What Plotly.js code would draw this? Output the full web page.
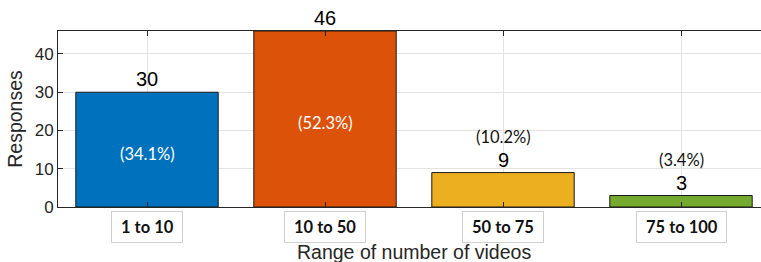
<!DOCTYPE html>
<html>
<head>
<meta charset="utf-8">
<script src="https://cdn.plot.ly/plotly-3.0.1.min.js"></script>
<style>
html,body{margin:0;padding:0;overflow:hidden;background:#fff;width:761px;height:262px;}
#chart{width:770px;height:262px;}
</style>
</head>
<body>
<div id="chart"></div>
<script>
const categories = ['1 to 10', '10 to 50', '50 to 75', '75 to 100'];
const responses = [30, 46, 9, 3];
const percents = ['(34.1%)', '(52.3%)', '(10.2%)', '(3.4%)'];
const barColors = ['#0072BD', '#DC5208', '#EBAF20', '#74AB2F'];
const yTicks = [0, 10, 20, 30, 40];

const xIdx = categories.map((c, i) => i + 1);
const txt = '#262626';

const annotations = [];
xIdx.forEach((x, i) => {
  const v = responses[i];
  annotations.push({
    x: x, y: v, xref: 'x', yref: 'y', text: String(v), showarrow: false,
    yanchor: 'bottom', yshift: 0,
    font: {family: 'Liberation Sans, Arial, sans-serif', size: 20, color: '#000'}
  });
  const inside = v > 20;
  annotations.push({
    x: x, y: inside ? v / 2 : v, xref: 'x', yref: 'y', text: percents[i], showarrow: false,
    yanchor: inside ? 'middle' : 'bottom', yshift: inside ? -4 : 24,
    font: {family: 'Lato, Carlito, sans-serif', size: 16.5, color: inside ? '#ffffff' : '#111'}
  });
  annotations.push({
    x: x, y: 0, xref: 'x', yref: 'y', text: '<b>&nbsp;' + categories[i] + '&nbsp;</b>', showarrow: false,
    yanchor: 'top', yshift: -4, bordercolor: '#d0d0d0', borderwidth: 1, borderpad: 5,
    bgcolor: '#ffffff',
    font: {family: 'Lato, Carlito, sans-serif', size: 16.5, color: '#111'}
  });
});
annotations.push({
  x: 0.5, y: 0, xref: 'paper', yref: 'paper', text: 'Range of number of videos', showarrow: false,
  xanchor: 'center', yanchor: 'top', yshift: -32,
  font: {family: 'Liberation Sans, Arial, sans-serif', size: 19.5, color: txt}
});

const trace = {
  type: 'bar', x: xIdx, y: responses,
  marker: {color: barColors, line: {color: '#1a1a1a', width: 1}},
  width: 0.8, hoverinfo: 'none'
};

const layout = {
  width: 770, height: 262,
  margin: {l: 58, r: 0, t: 31, b: 55},
  paper_bgcolor: '#fff', plot_bgcolor: '#fff',
  showlegend: false,
  font: {family: 'Liberation Sans, Arial, sans-serif', color: txt},
  xaxis: {
    range: [0.5, 4.5], tickvals: xIdx, ticktext: categories.map(() => ''),
    showgrid: true, gridcolor: '#e3e3e3', gridwidth: 1,
    ticks: 'inside', ticklen: 5, tickcolor: '#262626', mirror: 'ticks',
    showline: true, linecolor: '#262626', linewidth: 1, zeroline: false,
    automargin: false
  },
  yaxis: {
    range: [0, 46], tickvals: yTicks,
    showgrid: true, gridcolor: '#e3e3e3', gridwidth: 1,
    ticks: 'inside', ticklen: 5, tickcolor: '#262626', mirror: 'ticks',
    showline: true, linecolor: '#262626', linewidth: 1, zeroline: false,
    tickfont: {size: 17, color: txt},
    title: {text: 'Responses', font: {size: 19.5, color: txt}, standoff: 6},
    automargin: false
  },
  annotations: annotations
};

Plotly.newPlot('chart', [trace], layout, {displayModeBar: false, staticPlot: true});
</script>
</body>
</html>
